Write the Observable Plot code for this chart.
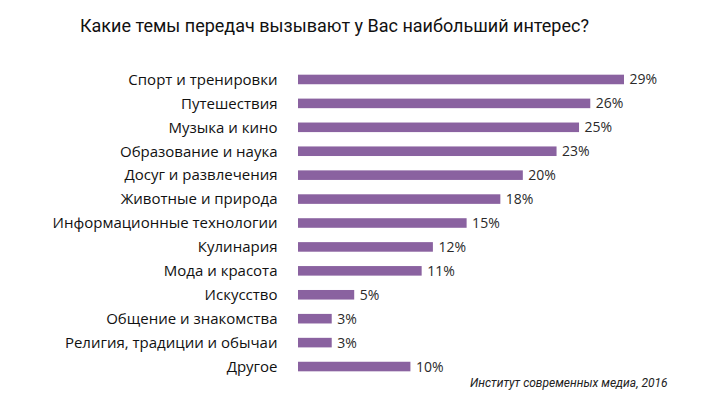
<!DOCTYPE html>
<html><head><meta charset="utf-8">
<script src="https://cdn.jsdelivr.net/npm/d3@7"></script>
<script src="https://cdn.jsdelivr.net/npm/@observablehq/plot@0.6"></script>
<style>
body{margin:0;background:#fff;width:720px;height:409px;overflow:hidden;position:relative;font-family:"Open Sans",sans-serif;}
#title{position:absolute;left:80px;top:15px;font-family:Roboto,sans-serif;font-size:18px;color:#111;white-space:nowrap;}
#chart{position:absolute;left:0;top:50px;}
#caption{position:absolute;left:470px;top:376px;font-family:Roboto,sans-serif;font-style:italic;font-size:12px;color:#222;white-space:nowrap;}
</style></head>
<body>
<div id="title">Какие темы передач вызывают у Вас наибольший интерес?</div>
<div id="chart"></div>
<div id="caption">Институт современных медиа, 2016</div>
<script>
const categories = ["Спорт и тренировки","Путешествия","Музыка и кино","Образование и наука","Досуг и развлечения","Животные и природа","Информационные технологии","Кулинария","Мода и красота","Искусство","Общение и знакомства","Религия, традиции и обычаи","Другое"];
const values = [29,26,25,23,20,18,15,12,11,5,3,3,10];
const data = categories.map((c,i)=>({category:c, value:values[i]}));
const plot = Plot.plot({
  width:720, height:340,
  marginLeft:298, marginRight:96, marginTop:17.5, marginBottom:11.5,
  style:{fontFamily:"Open Sans, sans-serif", background:"transparent"},
  x:{domain:[0,29], axis:null},
  y:{domain:categories, paddingInner:0.6, paddingOuter:0.3, round:false, label:null, axis:null},
  marks:[
    Plot.barX(data,{x:"value", y:"category", fill:"#8a62a0"}),
    Plot.text(data,{x:"value", y:"category", text:d=>d.value+"%", textAnchor:"start", dx:5, fontSize:14, fill:"#2a2a2a"}),
    Plot.axisY({tickSize:0, tickPadding:21, fontSize:15, fill:"#111", label:null})
  ]
});
document.getElementById("chart").appendChild(plot);
</script>
</body></html>
